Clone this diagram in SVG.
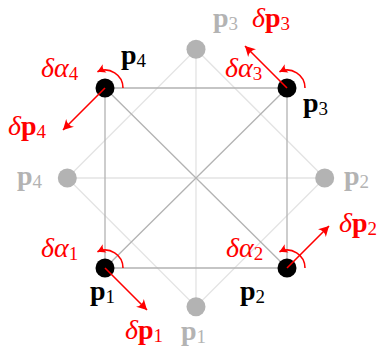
<svg xmlns="http://www.w3.org/2000/svg" width="384" height="349" viewBox="0 0 384 349">
<style>
.lt{stroke:#e3e3e3;stroke-width:1.3;fill:none}
.dk{stroke:#b3b3b3;stroke-width:1.3;fill:none}
.ra{stroke:#ff0000;stroke-width:1.6;fill:none}
.t{font-family:"Liberation Serif",serif;font-size:28px}
.bk{fill:#000;font-weight:bold}
.gy{fill:#b3b3b3;font-weight:bold}
.rd{fill:#ff0000}
.it{font-style:italic}
.bd{font-weight:bold}
.sb{font-size:19px;font-weight:normal;font-style:normal}
</style>
<defs>
<marker id="ah" viewBox="-11 -6 12 12" refX="0" refY="0" markerWidth="12" markerHeight="12" markerUnits="userSpaceOnUse" orient="auto">
<path d="M0,0 L-10,-5.5 Q-6,0 -10,5.5 Z" fill="#ff0000"/>
</marker>
<marker id="ah2" viewBox="-9 -5 10 10" refX="0" refY="0" markerWidth="10" markerHeight="10" markerUnits="userSpaceOnUse" orient="auto">
<path d="M0,0 L-8,-4.5 Q-5,0 -8,4.5 Z" fill="#ff0000"/>
</marker>
</defs>
<g id="connectors">
<path class="lt" d="M196,49.3 L324.7,178 L196,306.7 L67.3,178 Z"/>
<path class="lt" d="M196,49.3 L196,306.7 M67.3,178 L324.7,178"/>
<path class="dk" d="M105,88 L287,88 L287,268 L105,268 Z"/>
<path class="dk" d="M105,88 L287,268 M287,88 L105,268"/>
</g>
<g id="gp1"><circle cx="196" cy="306.7" r="9.5" fill="#b3b3b3"/><text class="t gy" x="181" y="340">p<tspan class="sb" dy="3">1</tspan></text></g>
<g id="gp2"><circle cx="324.7" cy="178" r="9.5" fill="#b3b3b3"/><text class="t gy" x="344" y="185">p<tspan class="sb" dy="3">2</tspan></text></g>
<g id="gp3"><circle cx="196" cy="49.3" r="9.5" fill="#b3b3b3"/><text class="t gy" x="213" y="27">p<tspan class="sb" dy="3">3</tspan></text></g>
<g id="gp4"><circle cx="67.3" cy="178" r="9.5" fill="#b3b3b3"/><text class="t gy" x="17" y="185">p<tspan class="sb" dy="3">4</tspan></text></g>
<g id="p1">
<circle cx="105" cy="268" r="9.5" fill="#000"/>
<text class="t bk" x="90" y="300">p<tspan class="sb" dy="3">1</tspan></text>
<path class="ra" d="M123,268 A18,18 0 0 0 97.4,251.7" marker-end="url(#ah2)"/>
<line class="ra" x1="105" y1="268" x2="147" y2="310" marker-end="url(#ah)"/>
<text class="t rd" x="41" y="257"><tspan class="it">δα</tspan><tspan class="sb" dy="3">1</tspan></text>
<text class="t rd" x="125" y="339"><tspan class="it">δ</tspan><tspan class="bd">p</tspan><tspan class="sb" dy="3">1</tspan></text>
</g>
<g id="p2">
<circle cx="287" cy="268" r="9.5" fill="#000"/>
<text class="t bk" x="240" y="300">p<tspan class="sb" dy="3">2</tspan></text>
<path class="ra" d="M305,268 A18,18 0 0 0 279.4,251.7" marker-end="url(#ah2)"/>
<line class="ra" x1="287" y1="268" x2="329" y2="226" marker-end="url(#ah)"/>
<text class="t rd" x="226" y="257"><tspan class="it">δα</tspan><tspan class="sb" dy="3">2</tspan></text>
<text class="t rd" x="339" y="232"><tspan class="it">δ</tspan><tspan class="bd">p</tspan><tspan class="sb" dy="3">2</tspan></text>
</g>
<g id="p3">
<circle cx="287" cy="88" r="9.5" fill="#000"/>
<text class="t bk" x="303" y="112">p<tspan class="sb" dy="3">3</tspan></text>
<path class="ra" d="M305,88 A18,18 0 0 0 279.4,71.7" marker-end="url(#ah2)"/>
<line class="ra" x1="287" y1="88" x2="245" y2="46" marker-end="url(#ah)"/>
<text class="t rd" x="225" y="77"><tspan class="it">δα</tspan><tspan class="sb" dy="3">3</tspan></text>
<text class="t rd" x="252" y="27"><tspan class="it">δ</tspan><tspan class="bd">p</tspan><tspan class="sb" dy="3">3</tspan></text>
</g>
<g id="p4">
<circle cx="105" cy="88" r="9.5" fill="#000"/>
<text class="t bk" x="121" y="64">p<tspan class="sb" dy="3">4</tspan></text>
<path class="ra" d="M123,88 A18,18 0 0 0 97.4,71.7" marker-end="url(#ah2)"/>
<line class="ra" x1="105" y1="88" x2="63" y2="130" marker-end="url(#ah)"/>
<text class="t rd" x="41" y="77"><tspan class="it">δα</tspan><tspan class="sb" dy="3">4</tspan></text>
<text class="t rd" x="8" y="135"><tspan class="it">δ</tspan><tspan class="bd">p</tspan><tspan class="sb" dy="3">4</tspan></text>
</g>
</svg>
